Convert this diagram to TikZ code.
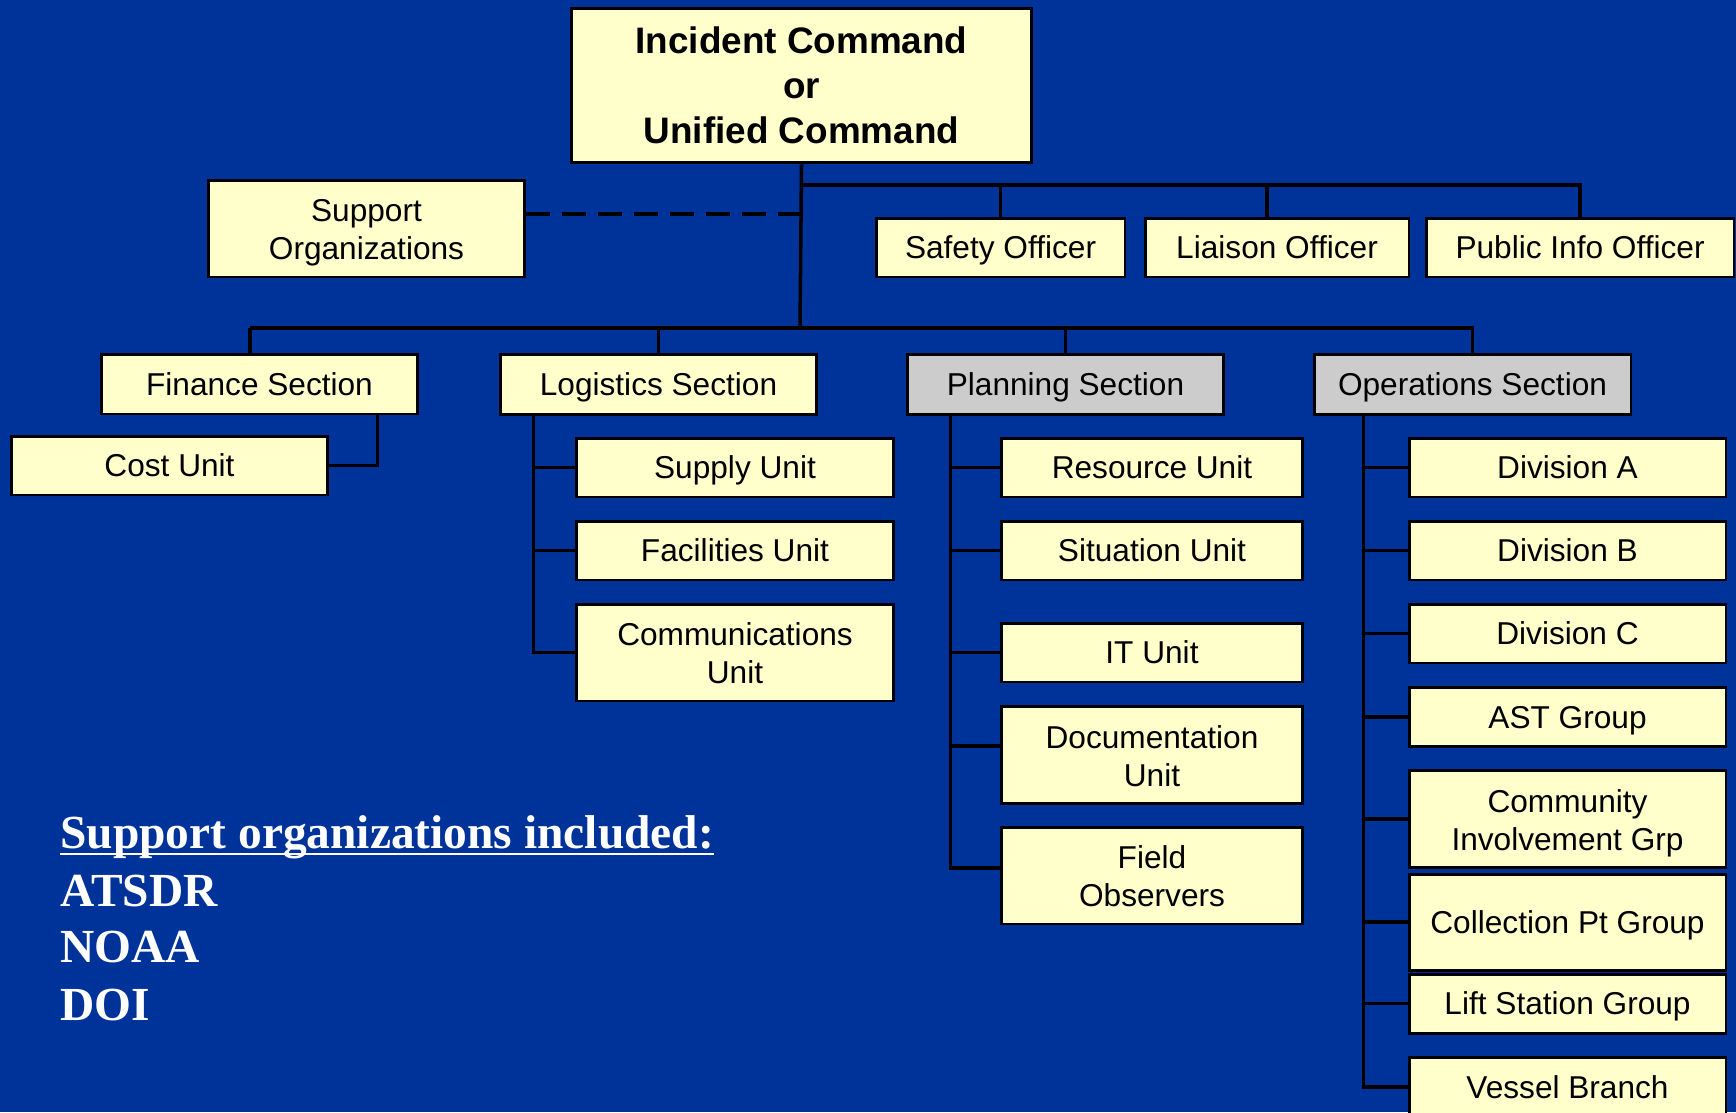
\documentclass[tikz,border=0pt]{standalone}
\usepackage{fontspec}
\setmainfont{Liberation Sans}
\newfontfamily\listfont{Liberation Serif}
\usetikzlibrary{positioning}
\definecolor{slideblue}{RGB}{0,51,153}
\definecolor{paleyellow}{RGB}{255,255,204}
\definecolor{sectgray}{RGB}{204,204,204}
\newcommand{\boxstrut}{\rule[-4pt]{0pt}{21pt}}
\newcommand{\tallstrut}{\rule{0pt}{39.5pt}}

\begin{document}
\begin{tikzpicture}[x=0.02cm,y=-0.02cm,
  boxbase/.style={draw=black,line width=1.7pt,fill=paleyellow,inner sep=0pt,align=center},
  box/.style={boxbase,font=\fontsize{18}{21.5}\selectfont,execute at begin node=\boxstrut,execute at end node=\boxstrut},
  unit/.style={box,minimum width=6.34cm,minimum height=1.18cm},
  tallunit/.style={unit,minimum height=1.94cm,execute at begin node=\tallstrut},
  sect/.style={unit,minimum height=1.2cm},
  graysect/.style={sect,fill=sectgray},
  topbox/.style={boxbase,minimum width=9.22cm,minimum height=3.1cm,font=\bfseries\fontsize{21}{25.6}\selectfont},
  link/.style={line width=2pt,black},
  listtext/.style={anchor=base west,inner sep=0pt,text=white,font=\listfont\bfseries\fontsize{27}{33}\selectfont}]
\fill [slideblue] (0,0) rectangle (1736,1112);
\clip (0,0) rectangle (1736,1112);

% command and staff
\node [topbox] (ic) at (801.5,85.5) {Incident Command\\or\\Unified Command};
\node [tallunit] (supp) at (366.5,228.5) {Support\\Organizations};
\node [box,minimum width=4.98cm,minimum height=1.18cm] (safety) at (1000.5,247.5) {Safety Officer};
\node [box,minimum width=5.28cm,minimum height=1.18cm] (liaison) at (1277,247.5) {Liaison Officer};
\node [box,minimum width=6.16cm,minimum height=1.18cm] (pio) at (1580,247.5) {Public Info Officer};

% sections
\node [sect] (finance) at (259.5,384) {Finance Section};
\node [sect] (logistics) at (658.5,384.5) {Logistics Section};
\node [graysect] (planning) at (1065.5,384.5) {Planning Section};
\node [graysect] (operations) at (1472.5,384.5) {Operations Section};

\node [unit] (cost) at (169.5,465.5) {Cost Unit};

\node [unit] (supply) at (735,467.5) {Supply Unit};
\node [unit] (facil) at (735,550.5) {Facilities Unit};
\node [tallunit] (comms) at (735,652.5) {Communications\\Unit};

\node [unit,minimum width=6.04cm] (resource) at (1152,467.5) {Resource Unit};
\node [unit,minimum width=6.04cm] (situation) at (1152,550.5) {Situation Unit};
\node [unit,minimum width=6.04cm] (itunit) at (1152,652.5) {IT Unit};
\node [tallunit,minimum width=6.04cm] (docu) at (1152,755) {Documentation\\Unit};
\node [tallunit,minimum width=6.04cm] (field) at (1152,875.5) {Field\\Observers};

\node [unit] (diva) at (1567.5,467.5) {Division A};
\node [unit] (divb) at (1567.5,550.5) {Division B};
\node [unit] (divc) at (1567.5,633.5) {Division C};
\node [unit] (ast) at (1567.5,717) {AST Group};
\node [tallunit] (commun) at (1567.5,819) {Community\\Involvement Grp};
\node [unit,minimum height=1.92cm] (collect) at (1567.5,922) {Collection Pt Group};
\node [unit] (lift) at (1567.5,1003.5) {Lift Station Group};
\node [unit] (vessel) at (1567.5,1087) {Vessel Branch};

% connectors
\coordinate (offbus) at (800,185);
\coordinate (secbus) at (800,328);
\draw [link] (ic.south) -- (secbus);
\draw [link] (offbus) -| (pio.north);
\draw [link] (safety.north |- offbus) -- (safety.north);
\draw [link] ([xshift=-0.2cm]liaison.north |- offbus) -- ([xshift=-0.2cm]liaison.north);
\draw [link, dash pattern=on 0.48cm off 0.24cm] (supp.east |- 0,214) -- (800,214);
\draw [link] ([xshift=-0.19cm]finance.north |- secbus) -| (operations.north);
\draw [link] ([xshift=-0.19cm]finance.north |- secbus) -- ([xshift=-0.19cm]finance.north);
\foreach \n in {logistics,planning} {\draw [link] (\n.north |- secbus) -- (\n.north);}

\draw [link] ([xshift=-0.84cm]finance.south east) |- (cost.east);
\coordinate (logtrunk) at ([xshift=0.7cm]logistics.south west);
\foreach \n in {supply,facil,comms} {\draw [link] (logtrunk) |- (\n.west);}
\coordinate (plantrunk) at ([xshift=0.9cm]planning.south west);
\foreach \n in {resource,situation,itunit} {\draw [link] (plantrunk) |- (\n.west);}
\draw [link] (plantrunk) |- ([yshift=0.18cm]docu.west);
\draw [link] (plantrunk) |- ([yshift=0.15cm]field.west);
\coordinate (optrunk) at ([xshift=1.02cm]operations.south west);
\foreach \n in {diva,divb,divc,ast,commun,collect,lift,vessel} {\draw [link] (optrunk) |- (\n.west);}

% support list
\node [listtext] (listhead) at (60,848) {Support organizations included:};
\draw [white,line width=1.4pt] ([yshift=-0.12cm]listhead.base west) -- ([yshift=-0.12cm]listhead.base east);
\node [listtext] (atsdr) at (60,906) {ATSDR};
\node [listtext] (noaa) at (60,962) {NOAA};
\node [listtext] (doi) at (60,1020) {DOI};

\end{tikzpicture}
\end{document}
